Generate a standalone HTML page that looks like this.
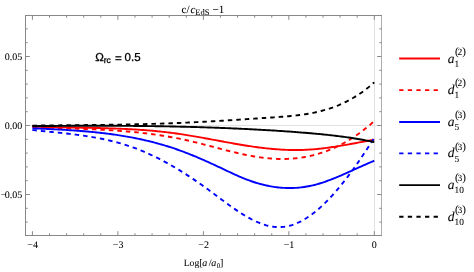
<!DOCTYPE html>
<html><head><meta charset="utf-8"><title>plot</title>
<style>
html,body{margin:0;padding:0;background:#fff;}
body{width:474px;height:272px;overflow:hidden;font-family:"Liberation Serif",serif;}
svg{display:block;}
text{font-family:"Liberation Serif",serif;fill:#000;stroke:#000;stroke-width:0.06px;text-rendering:geometricPrecision;}
svg{opacity:0.999;will-change:transform;}
.sans{font-family:"Liberation Sans",sans-serif;fill:#000;stroke-width:0.3px;}
</style></head><body>
<svg width="474" height="272" viewBox="0 0 474 272">
<rect width="474" height="272" fill="#fff"/>
<g stroke="#e2e2e2" stroke-width="1" fill="none">
<path d="M25.5,125.5 H381.5"/><path d="M374.5,15.5 V235.5"/>
</g>
<g fill="none" stroke-width="1.9" stroke-linecap="butt" stroke-linejoin="round">
<path d="M32.4,126.55 L33.9,126.60 L35.4,126.66 L36.9,126.71 L38.4,126.76 L39.9,126.80 L41.4,126.85 L42.9,126.89 L44.4,126.94 L45.9,126.98 L47.4,127.01 L48.9,127.05 L50.4,127.09 L51.9,127.12 L53.4,127.16 L54.9,127.19 L56.4,127.22 L57.9,127.25 L59.4,127.28 L60.9,127.31 L62.4,127.34 L63.9,127.37 L65.4,127.40 L66.9,127.42 L68.4,127.45 L69.9,127.48 L71.4,127.50 L72.9,127.53 L74.4,127.56 L75.9,127.58 L77.4,127.61 L78.9,127.64 L80.4,127.66 L81.9,127.69 L83.4,127.72 L84.9,127.75 L86.4,127.77 L87.9,127.80 L89.4,127.83 L90.9,127.86 L92.4,127.90 L93.9,127.93 L95.4,127.96 L96.9,128.00 L98.4,128.03 L99.9,128.07 L101.4,128.11 L102.9,128.15 L104.4,128.19 L105.9,128.23 L107.4,128.28 L108.9,128.33 L110.4,128.37 L111.9,128.42 L113.4,128.48 L114.9,128.53 L116.4,128.59 L117.9,128.65 L119.4,128.71 L120.9,128.77 L122.4,128.84 L123.9,128.91 L125.4,128.98 L126.9,129.05 L128.4,129.13 L129.9,129.21 L131.4,129.29 L132.9,129.37 L134.4,129.46 L135.9,129.55 L137.4,129.65 L138.9,129.75 L140.4,129.85 L141.9,129.95 L143.4,130.06 L144.9,130.17 L146.4,130.29 L147.9,130.41 L149.4,130.53 L150.9,130.66 L152.4,130.79 L153.9,130.92 L155.4,131.06 L156.9,131.21 L158.4,131.36 L159.9,131.51 L161.4,131.67 L162.9,131.83 L164.4,131.99 L165.9,132.16 L167.4,132.34 L168.9,132.52 L170.4,132.71 L171.9,132.90 L173.4,133.09 L174.9,133.29 L176.4,133.50 L177.9,133.71 L179.4,133.93 L180.9,134.15 L182.4,134.37 L183.9,134.61 L185.4,134.84 L186.9,135.08 L188.4,135.32 L189.9,135.57 L191.4,135.82 L192.9,136.08 L194.4,136.33 L195.9,136.60 L197.4,136.86 L198.9,137.12 L200.4,137.39 L201.9,137.66 L203.4,137.93 L204.9,138.21 L206.4,138.48 L207.9,138.76 L209.4,139.04 L210.9,139.32 L212.4,139.60 L213.9,139.87 L215.4,140.15 L216.9,140.43 L218.4,140.71 L219.9,140.99 L221.4,141.27 L222.9,141.55 L224.4,141.83 L225.9,142.10 L227.4,142.38 L228.9,142.65 L230.4,142.92 L231.9,143.19 L233.4,143.45 L234.9,143.72 L236.4,143.98 L237.9,144.24 L239.4,144.49 L240.9,144.74 L242.4,144.99 L243.9,145.24 L245.4,145.48 L246.9,145.71 L248.4,145.95 L249.9,146.17 L251.4,146.40 L252.9,146.62 L254.4,146.83 L255.9,147.04 L257.4,147.24 L258.9,147.44 L260.4,147.63 L261.9,147.81 L263.4,147.99 L264.9,148.16 L266.4,148.33 L267.9,148.49 L269.4,148.64 L270.9,148.79 L272.4,148.93 L273.9,149.06 L275.4,149.18 L276.9,149.30 L278.4,149.41 L279.9,149.51 L281.4,149.60 L282.9,149.69 L284.4,149.76 L285.9,149.83 L287.4,149.89 L288.9,149.93 L290.4,149.97 L291.9,150.00 L293.4,150.02 L294.9,150.04 L296.4,150.04 L297.9,150.03 L299.4,150.01 L300.9,149.98 L302.4,149.94 L303.9,149.88 L305.4,149.82 L306.9,149.75 L308.4,149.66 L309.9,149.57 L311.4,149.46 L312.9,149.35 L314.4,149.22 L315.9,149.09 L317.4,148.94 L318.9,148.79 L320.4,148.63 L321.9,148.46 L323.4,148.28 L324.9,148.09 L326.4,147.90 L327.9,147.70 L329.4,147.49 L330.9,147.28 L332.4,147.06 L333.9,146.83 L335.4,146.60 L336.9,146.36 L338.4,146.12 L339.9,145.88 L341.4,145.63 L342.9,145.37 L344.4,145.11 L345.9,144.85 L347.4,144.59 L348.9,144.32 L350.4,144.05 L351.9,143.78 L353.4,143.51 L354.9,143.23 L356.4,142.95 L357.9,142.68 L359.4,142.40 L360.9,142.12 L362.4,141.84 L363.9,141.56 L365.4,141.29 L366.9,141.01 L368.4,140.74 L369.9,140.46 L371.4,140.19 L372.9,139.92 L374.3,139.67" stroke="#ff0000"/>
<path d="M32.4,127.06 L33.9,127.13 L35.4,127.19 L36.9,127.25 L38.4,127.31 L39.9,127.37 L41.4,127.43 L42.9,127.49 L44.4,127.54 L45.9,127.60 L47.4,127.65 L48.9,127.71 L50.4,127.76 L51.9,127.81 L53.4,127.86 L54.9,127.91 L56.4,127.96 L57.9,128.01 L59.4,128.06 L60.9,128.11 L62.4,128.16 L63.9,128.21 L65.4,128.26 L66.9,128.31 L68.4,128.36 L69.9,128.41 L71.4,128.47 L72.9,128.52 L74.4,128.57 L75.9,128.62 L77.4,128.68 L78.9,128.73 L80.4,128.79 L81.9,128.84 L83.4,128.90 L84.9,128.96 L86.4,129.02 L87.9,129.08 L89.4,129.14 L90.9,129.21 L92.4,129.27 L93.9,129.34 L95.4,129.41 L96.9,129.48 L98.4,129.56 L99.9,129.63 L101.4,129.71 L102.9,129.79 L104.4,129.87 L105.9,129.96 L107.4,130.04 L108.9,130.13 L110.4,130.22 L111.9,130.32 L113.4,130.41 L114.9,130.52 L116.4,130.62 L117.9,130.72 L119.4,130.83 L120.9,130.95 L122.4,131.06 L123.9,131.18 L125.4,131.30 L126.9,131.43 L128.4,131.56 L129.9,131.69 L131.4,131.83 L132.9,131.97 L134.4,132.11 L135.9,132.26 L137.4,132.41 L138.9,132.57 L140.4,132.73 L141.9,132.90 L143.4,133.07 L144.9,133.24 L146.4,133.42 L147.9,133.61 L149.4,133.79 L150.9,133.99 L152.4,134.19 L153.9,134.39 L155.4,134.60 L156.9,134.81 L158.4,135.03 L159.9,135.25 L161.4,135.48 L162.9,135.72 L164.4,135.96 L165.9,136.21 L167.4,136.46 L168.9,136.72 L170.4,136.98 L171.9,137.25 L173.4,137.53 L174.9,137.81 L176.4,138.10 L177.9,138.39 L179.4,138.69 L180.9,139.00 L182.4,139.31 L183.9,139.63 L185.4,139.96 L186.9,140.30 L188.4,140.64 L189.9,140.98 L191.4,141.34 L192.9,141.70 L194.4,142.06 L195.9,142.43 L197.4,142.80 L198.9,143.18 L200.4,143.56 L201.9,143.94 L203.4,144.33 L204.9,144.72 L206.4,145.11 L207.9,145.50 L209.4,145.90 L210.9,146.29 L212.4,146.69 L213.9,147.08 L215.4,147.48 L216.9,147.88 L218.4,148.27 L219.9,148.66 L221.4,149.05 L222.9,149.44 L224.4,149.83 L225.9,150.21 L227.4,150.59 L228.9,150.97 L230.4,151.34 L231.9,151.71 L233.4,152.08 L234.9,152.44 L236.4,152.79 L237.9,153.14 L239.4,153.48 L240.9,153.81 L242.4,154.14 L243.9,154.46 L245.4,154.78 L246.9,155.08 L248.4,155.38 L249.9,155.66 L251.4,155.94 L252.9,156.21 L254.4,156.47 L255.9,156.72 L257.4,156.95 L258.9,157.18 L260.4,157.39 L261.9,157.59 L263.4,157.79 L264.9,157.96 L266.4,158.13 L267.9,158.28 L269.4,158.42 L270.9,158.54 L272.4,158.65 L273.9,158.74 L275.4,158.82 L276.9,158.88 L278.4,158.93 L279.9,158.96 L281.4,158.98 L282.9,158.98 L284.4,158.96 L285.9,158.93 L287.4,158.88 L288.9,158.81 L290.4,158.73 L291.9,158.63 L293.4,158.51 L294.9,158.38 L296.4,158.23 L297.9,158.05 L299.4,157.86 L300.9,157.66 L302.4,157.43 L303.9,157.19 L305.4,156.92 L306.9,156.64 L308.4,156.34 L309.9,156.02 L311.4,155.67 L312.9,155.31 L314.4,154.93 L315.9,154.53 L317.4,154.11 L318.9,153.66 L320.4,153.20 L321.9,152.72 L323.4,152.21 L324.9,151.68 L326.4,151.13 L327.9,150.56 L329.4,149.97 L330.9,149.35 L332.4,148.71 L333.9,148.05 L335.4,147.37 L336.9,146.66 L338.4,145.94 L339.9,145.18 L341.4,144.41 L342.9,143.61 L344.4,142.78 L345.9,141.93 L347.4,141.06 L348.9,140.16 L350.4,139.24 L351.9,138.30 L353.4,137.32 L354.9,136.33 L356.4,135.30 L357.9,134.26 L359.4,133.18 L360.9,132.08 L362.4,130.95 L363.9,129.80 L365.4,128.62 L366.9,127.41 L368.4,126.18 L369.9,124.92 L371.4,123.63 L372.9,122.32 L374.3,121.06" stroke="#ff0000" stroke-dasharray="4.5 4"/>
<path d="M32.4,128.28 L33.9,128.35 L35.4,128.41 L36.9,128.48 L38.4,128.55 L39.9,128.61 L41.4,128.68 L42.9,128.75 L44.4,128.82 L45.9,128.89 L47.4,128.96 L48.9,129.03 L50.4,129.10 L51.9,129.18 L53.4,129.25 L54.9,129.33 L56.4,129.41 L57.9,129.49 L59.4,129.57 L60.9,129.65 L62.4,129.74 L63.9,129.82 L65.4,129.91 L66.9,130.00 L68.4,130.10 L69.9,130.19 L71.4,130.29 L72.9,130.39 L74.4,130.50 L75.9,130.60 L77.4,130.71 L78.9,130.83 L80.4,130.94 L81.9,131.06 L83.4,131.18 L84.9,131.31 L86.4,131.44 L87.9,131.57 L89.4,131.70 L90.9,131.84 L92.4,131.99 L93.9,132.13 L95.4,132.29 L96.9,132.44 L98.4,132.60 L99.9,132.77 L101.4,132.94 L102.9,133.11 L104.4,133.29 L105.9,133.47 L107.4,133.66 L108.9,133.85 L110.4,134.05 L111.9,134.25 L113.4,134.46 L114.9,134.67 L116.4,134.89 L117.9,135.12 L119.4,135.35 L120.9,135.58 L122.4,135.82 L123.9,136.07 L125.4,136.32 L126.9,136.58 L128.4,136.85 L129.9,137.12 L131.4,137.40 L132.9,137.69 L134.4,137.98 L135.9,138.28 L137.4,138.58 L138.9,138.89 L140.4,139.21 L141.9,139.54 L143.4,139.87 L144.9,140.21 L146.4,140.56 L147.9,140.92 L149.4,141.28 L150.9,141.65 L152.4,142.03 L153.9,142.42 L155.4,142.81 L156.9,143.21 L158.4,143.62 L159.9,144.04 L161.4,144.47 L162.9,144.91 L164.4,145.35 L165.9,145.81 L167.4,146.27 L168.9,146.74 L170.4,147.22 L171.9,147.71 L173.4,148.21 L174.9,148.71 L176.4,149.23 L177.9,149.76 L179.4,150.29 L180.9,150.84 L182.4,151.39 L183.9,151.95 L185.4,152.53 L186.9,153.10 L188.4,153.69 L189.9,154.29 L191.4,154.89 L192.9,155.50 L194.4,156.12 L195.9,156.74 L197.4,157.37 L198.9,158.01 L200.4,158.65 L201.9,159.30 L203.4,159.96 L204.9,160.62 L206.4,161.28 L207.9,161.95 L209.4,162.63 L210.9,163.31 L212.4,164.00 L213.9,164.69 L215.4,165.38 L216.9,166.08 L218.4,166.78 L219.9,167.48 L221.4,168.19 L222.9,168.90 L224.4,169.61 L225.9,170.32 L227.4,171.03 L228.9,171.74 L230.4,172.44 L231.9,173.14 L233.4,173.84 L234.9,174.52 L236.4,175.20 L237.9,175.87 L239.4,176.53 L240.9,177.17 L242.4,177.80 L243.9,178.42 L245.4,179.02 L246.9,179.60 L248.4,180.17 L249.9,180.72 L251.4,181.24 L252.9,181.75 L254.4,182.25 L255.9,182.72 L257.4,183.17 L258.9,183.60 L260.4,184.02 L261.9,184.41 L263.4,184.79 L264.9,185.14 L266.4,185.48 L267.9,185.80 L269.4,186.09 L270.9,186.37 L272.4,186.62 L273.9,186.86 L275.4,187.07 L276.9,187.27 L278.4,187.44 L279.9,187.59 L281.4,187.72 L282.9,187.83 L284.4,187.92 L285.9,187.98 L287.4,188.03 L288.9,188.05 L290.4,188.05 L291.9,188.03 L293.4,187.98 L294.9,187.92 L296.4,187.83 L297.9,187.72 L299.4,187.58 L300.9,187.42 L302.4,187.24 L303.9,187.04 L305.4,186.81 L306.9,186.56 L308.4,186.29 L309.9,185.99 L311.4,185.67 L312.9,185.33 L314.4,184.96 L315.9,184.57 L317.4,184.15 L318.9,183.72 L320.4,183.26 L321.9,182.79 L323.4,182.30 L324.9,181.79 L326.4,181.26 L327.9,180.72 L329.4,180.16 L330.9,179.59 L332.4,179.01 L333.9,178.41 L335.4,177.80 L336.9,177.18 L338.4,176.55 L339.9,175.92 L341.4,175.27 L342.9,174.62 L344.4,173.95 L345.9,173.29 L347.4,172.62 L348.9,171.94 L350.4,171.27 L351.9,170.59 L353.4,169.91 L354.9,169.22 L356.4,168.54 L357.9,167.86 L359.4,167.19 L360.9,166.51 L362.4,165.84 L363.9,165.17 L365.4,164.51 L366.9,163.86 L368.4,163.21 L369.9,162.57 L371.4,161.94 L372.9,161.32 L374.3,160.75" stroke="#0000ff"/>
<path d="M32.4,129.99 L33.9,130.15 L35.4,130.31 L36.9,130.47 L38.4,130.62 L39.9,130.78 L41.4,130.93 L42.9,131.08 L44.4,131.23 L45.9,131.38 L47.4,131.53 L48.9,131.68 L50.4,131.83 L51.9,131.98 L53.4,132.13 L54.9,132.28 L56.4,132.44 L57.9,132.59 L59.4,132.75 L60.9,132.91 L62.4,133.06 L63.9,133.23 L65.4,133.39 L66.9,133.56 L68.4,133.73 L69.9,133.90 L71.4,134.08 L72.9,134.26 L74.4,134.45 L75.9,134.64 L77.4,134.83 L78.9,135.03 L80.4,135.23 L81.9,135.44 L83.4,135.65 L84.9,135.87 L86.4,136.10 L87.9,136.33 L89.4,136.57 L90.9,136.82 L92.4,137.07 L93.9,137.33 L95.4,137.59 L96.9,137.87 L98.4,138.15 L99.9,138.44 L101.4,138.74 L102.9,139.05 L104.4,139.36 L105.9,139.69 L107.4,140.02 L108.9,140.37 L110.4,140.72 L111.9,141.08 L113.4,141.46 L114.9,141.84 L116.4,142.24 L117.9,142.64 L119.4,143.06 L120.9,143.49 L122.4,143.93 L123.9,144.39 L125.4,144.85 L126.9,145.33 L128.4,145.82 L129.9,146.33 L131.4,146.84 L132.9,147.37 L134.4,147.92 L135.9,148.47 L137.4,149.05 L138.9,149.63 L140.4,150.23 L141.9,150.84 L143.4,151.47 L144.9,152.11 L146.4,152.76 L147.9,153.42 L149.4,154.10 L150.9,154.79 L152.4,155.50 L153.9,156.21 L155.4,156.94 L156.9,157.68 L158.4,158.43 L159.9,159.20 L161.4,159.97 L162.9,160.76 L164.4,161.56 L165.9,162.37 L167.4,163.19 L168.9,164.03 L170.4,164.88 L171.9,165.73 L173.4,166.60 L174.9,167.48 L176.4,168.37 L177.9,169.27 L179.4,170.18 L180.9,171.10 L182.4,172.03 L183.9,172.98 L185.4,173.93 L186.9,174.89 L188.4,175.86 L189.9,176.84 L191.4,177.84 L192.9,178.84 L194.4,179.85 L195.9,180.87 L197.4,181.90 L198.9,182.94 L200.4,183.98 L201.9,185.04 L203.4,186.11 L204.9,187.18 L206.4,188.26 L207.9,189.35 L209.4,190.45 L210.9,191.56 L212.4,192.67 L213.9,193.79 L215.4,194.91 L216.9,196.03 L218.4,197.15 L219.9,198.27 L221.4,199.39 L222.9,200.51 L224.4,201.62 L225.9,202.72 L227.4,203.82 L228.9,204.90 L230.4,205.98 L231.9,207.05 L233.4,208.10 L234.9,209.14 L236.4,210.16 L237.9,211.17 L239.4,212.16 L240.9,213.13 L242.4,214.07 L243.9,215.00 L245.4,215.90 L246.9,216.78 L248.4,217.63 L249.9,218.45 L251.4,219.25 L252.9,220.01 L254.4,220.75 L255.9,221.45 L257.4,222.11 L258.9,222.74 L260.4,223.34 L261.9,223.89 L263.4,224.41 L264.9,224.88 L266.4,225.32 L267.9,225.71 L269.4,226.05 L270.9,226.35 L272.4,226.60 L273.9,226.80 L275.4,226.95 L276.9,227.05 L278.4,227.10 L279.9,227.09 L281.4,227.03 L282.9,226.91 L284.4,226.74 L285.9,226.51 L287.4,226.22 L288.9,225.88 L290.4,225.49 L291.9,225.05 L293.4,224.55 L294.9,224.00 L296.4,223.40 L297.9,222.74 L299.4,222.04 L300.9,221.29 L302.4,220.49 L303.9,219.65 L305.4,218.75 L306.9,217.81 L308.4,216.82 L309.9,215.79 L311.4,214.71 L312.9,213.59 L314.4,212.43 L315.9,211.22 L317.4,209.97 L318.9,208.68 L320.4,207.35 L321.9,205.98 L323.4,204.57 L324.9,203.12 L326.4,201.63 L327.9,200.10 L329.4,198.54 L330.9,196.94 L332.4,195.30 L333.9,193.63 L335.4,191.93 L336.9,190.19 L338.4,188.42 L339.9,186.61 L341.4,184.78 L342.9,182.91 L344.4,181.01 L345.9,179.08 L347.4,177.12 L348.9,175.14 L350.4,173.12 L351.9,171.08 L353.4,169.01 L354.9,166.92 L356.4,164.80 L357.9,162.65 L359.4,160.48 L360.9,158.29 L362.4,156.07 L363.9,153.83 L365.4,151.57 L366.9,149.29 L368.4,146.99 L369.9,144.67 L371.4,142.33 L372.9,139.97 L374.3,137.75" stroke="#0000ff" stroke-dasharray="4.5 4"/>
<path d="M32.4,126.13 L33.9,126.12 L35.4,126.10 L36.9,126.09 L38.4,126.07 L39.9,126.06 L41.4,126.04 L42.9,126.03 L44.4,126.01 L45.9,126.00 L47.4,125.99 L48.9,125.97 L50.4,125.96 L51.9,125.95 L53.4,125.94 L54.9,125.93 L56.4,125.91 L57.9,125.90 L59.4,125.89 L60.9,125.88 L62.4,125.87 L63.9,125.86 L65.4,125.85 L66.9,125.85 L68.4,125.84 L69.9,125.83 L71.4,125.82 L72.9,125.81 L74.4,125.81 L75.9,125.80 L77.4,125.80 L78.9,125.79 L80.4,125.78 L81.9,125.78 L83.4,125.78 L84.9,125.77 L86.4,125.77 L87.9,125.77 L89.4,125.76 L90.9,125.76 L92.4,125.76 L93.9,125.76 L95.4,125.76 L96.9,125.76 L98.4,125.76 L99.9,125.76 L101.4,125.76 L102.9,125.76 L104.4,125.77 L105.9,125.77 L107.4,125.77 L108.9,125.78 L110.4,125.78 L111.9,125.79 L113.4,125.79 L114.9,125.80 L116.4,125.80 L117.9,125.81 L119.4,125.82 L120.9,125.83 L122.4,125.84 L123.9,125.85 L125.4,125.86 L126.9,125.87 L128.4,125.88 L129.9,125.89 L131.4,125.90 L132.9,125.92 L134.4,125.93 L135.9,125.94 L137.4,125.96 L138.9,125.97 L140.4,125.99 L141.9,126.01 L143.4,126.02 L144.9,126.04 L146.4,126.06 L147.9,126.08 L149.4,126.10 L150.9,126.12 L152.4,126.14 L153.9,126.16 L155.4,126.19 L156.9,126.21 L158.4,126.23 L159.9,126.26 L161.4,126.28 L162.9,126.31 L164.4,126.34 L165.9,126.37 L167.4,126.39 L168.9,126.42 L170.4,126.45 L171.9,126.48 L173.4,126.51 L174.9,126.55 L176.4,126.58 L177.9,126.61 L179.4,126.65 L180.9,126.68 L182.4,126.72 L183.9,126.75 L185.4,126.79 L186.9,126.83 L188.4,126.87 L189.9,126.91 L191.4,126.95 L192.9,126.99 L194.4,127.03 L195.9,127.07 L197.4,127.12 L198.9,127.16 L200.4,127.21 L201.9,127.25 L203.4,127.30 L204.9,127.35 L206.4,127.40 L207.9,127.45 L209.4,127.50 L210.9,127.55 L212.4,127.60 L213.9,127.65 L215.4,127.71 L216.9,127.76 L218.4,127.82 L219.9,127.88 L221.4,127.93 L222.9,127.99 L224.4,128.05 L225.9,128.11 L227.4,128.17 L228.9,128.23 L230.4,128.30 L231.9,128.36 L233.4,128.43 L234.9,128.49 L236.4,128.56 L237.9,128.63 L239.4,128.70 L240.9,128.77 L242.4,128.84 L243.9,128.91 L245.4,128.98 L246.9,129.05 L248.4,129.13 L249.9,129.20 L251.4,129.28 L252.9,129.36 L254.4,129.44 L255.9,129.52 L257.4,129.60 L258.9,129.68 L260.4,129.76 L261.9,129.85 L263.4,129.93 L264.9,130.02 L266.4,130.11 L267.9,130.20 L269.4,130.28 L270.9,130.38 L272.4,130.47 L273.9,130.56 L275.4,130.66 L276.9,130.75 L278.4,130.85 L279.9,130.95 L281.4,131.05 L282.9,131.15 L284.4,131.25 L285.9,131.35 L287.4,131.46 L288.9,131.56 L290.4,131.67 L291.9,131.78 L293.4,131.89 L294.9,132.00 L296.4,132.11 L297.9,132.23 L299.4,132.34 L300.9,132.46 L302.4,132.58 L303.9,132.70 L305.4,132.82 L306.9,132.94 L308.4,133.06 L309.9,133.19 L311.4,133.32 L312.9,133.45 L314.4,133.58 L315.9,133.72 L317.4,133.85 L318.9,134.00 L320.4,134.14 L321.9,134.28 L323.4,134.43 L324.9,134.59 L326.4,134.74 L327.9,134.90 L329.4,135.07 L330.9,135.23 L332.4,135.40 L333.9,135.58 L335.4,135.76 L336.9,135.94 L338.4,136.13 L339.9,136.32 L341.4,136.51 L342.9,136.71 L344.4,136.92 L345.9,137.13 L347.4,137.34 L348.9,137.56 L350.4,137.79 L351.9,138.02 L353.4,138.25 L354.9,138.49 L356.4,138.73 L357.9,138.98 L359.4,139.24 L360.9,139.50 L362.4,139.77 L363.9,140.04 L365.4,140.32 L366.9,140.60 L368.4,140.89 L369.9,141.19 L371.4,141.49 L372.9,141.80 L374.3,142.09" stroke="#000000"/>
<path d="M32.4,125.61 L33.9,125.59 L35.4,125.58 L36.9,125.56 L38.4,125.54 L39.9,125.53 L41.4,125.51 L42.9,125.49 L44.4,125.48 L45.9,125.46 L47.4,125.45 L48.9,125.43 L50.4,125.42 L51.9,125.40 L53.4,125.39 L54.9,125.37 L56.4,125.36 L57.9,125.34 L59.4,125.33 L60.9,125.31 L62.4,125.30 L63.9,125.29 L65.4,125.27 L66.9,125.26 L68.4,125.24 L69.9,125.23 L71.4,125.21 L72.9,125.20 L74.4,125.18 L75.9,125.17 L77.4,125.15 L78.9,125.14 L80.4,125.12 L81.9,125.11 L83.4,125.09 L84.9,125.08 L86.4,125.06 L87.9,125.04 L89.4,125.03 L90.9,125.01 L92.4,124.99 L93.9,124.98 L95.4,124.96 L96.9,124.94 L98.4,124.92 L99.9,124.90 L101.4,124.88 L102.9,124.86 L104.4,124.84 L105.9,124.82 L107.4,124.80 L108.9,124.78 L110.4,124.76 L111.9,124.74 L113.4,124.71 L114.9,124.69 L116.4,124.66 L117.9,124.64 L119.4,124.61 L120.9,124.59 L122.4,124.56 L123.9,124.53 L125.4,124.51 L126.9,124.48 L128.4,124.45 L129.9,124.42 L131.4,124.39 L132.9,124.36 L134.4,124.33 L135.9,124.29 L137.4,124.26 L138.9,124.22 L140.4,124.19 L141.9,124.15 L143.4,124.12 L144.9,124.08 L146.4,124.04 L147.9,124.00 L149.4,123.96 L150.9,123.92 L152.4,123.88 L153.9,123.83 L155.4,123.79 L156.9,123.74 L158.4,123.70 L159.9,123.65 L161.4,123.60 L162.9,123.55 L164.4,123.50 L165.9,123.45 L167.4,123.40 L168.9,123.34 L170.4,123.29 L171.9,123.23 L173.4,123.17 L174.9,123.11 L176.4,123.06 L177.9,122.99 L179.4,122.93 L180.9,122.87 L182.4,122.80 L183.9,122.74 L185.4,122.67 L186.9,122.60 L188.4,122.53 L189.9,122.46 L191.4,122.39 L192.9,122.32 L194.4,122.25 L195.9,122.17 L197.4,122.10 L198.9,122.02 L200.4,121.94 L201.9,121.87 L203.4,121.79 L204.9,121.71 L206.4,121.63 L207.9,121.54 L209.4,121.46 L210.9,121.38 L212.4,121.29 L213.9,121.21 L215.4,121.12 L216.9,121.04 L218.4,120.95 L219.9,120.86 L221.4,120.77 L222.9,120.68 L224.4,120.59 L225.9,120.50 L227.4,120.41 L228.9,120.32 L230.4,120.22 L231.9,120.13 L233.4,120.03 L234.9,119.94 L236.4,119.85 L237.9,119.75 L239.4,119.65 L240.9,119.56 L242.4,119.46 L243.9,119.36 L245.4,119.26 L246.9,119.17 L248.4,119.07 L249.9,118.97 L251.4,118.87 L252.9,118.77 L254.4,118.67 L255.9,118.57 L257.4,118.47 L258.9,118.36 L260.4,118.26 L261.9,118.16 L263.4,118.06 L264.9,117.96 L266.4,117.86 L267.9,117.75 L269.4,117.65 L270.9,117.55 L272.4,117.45 L273.9,117.34 L275.4,117.24 L276.9,117.13 L278.4,117.03 L279.9,116.92 L281.4,116.81 L282.9,116.69 L284.4,116.57 L285.9,116.45 L287.4,116.32 L288.9,116.18 L290.4,116.04 L291.9,115.90 L293.4,115.74 L294.9,115.58 L296.4,115.41 L297.9,115.23 L299.4,115.05 L300.9,114.85 L302.4,114.64 L303.9,114.43 L305.4,114.20 L306.9,113.96 L308.4,113.70 L309.9,113.44 L311.4,113.16 L312.9,112.86 L314.4,112.56 L315.9,112.23 L317.4,111.90 L318.9,111.54 L320.4,111.17 L321.9,110.79 L323.4,110.38 L324.9,109.96 L326.4,109.52 L327.9,109.06 L329.4,108.58 L330.9,108.08 L332.4,107.56 L333.9,107.01 L335.4,106.45 L336.9,105.86 L338.4,105.26 L339.9,104.62 L341.4,103.97 L342.9,103.29 L344.4,102.58 L345.9,101.85 L347.4,101.09 L348.9,100.31 L350.4,99.49 L351.9,98.65 L353.4,97.79 L354.9,96.89 L356.4,95.96 L357.9,95.00 L359.4,94.01 L360.9,92.99 L362.4,91.93 L363.9,90.84 L365.4,89.72 L366.9,88.56 L368.4,87.37 L369.9,86.15 L371.4,84.88 L372.9,83.59 L374.3,82.34" stroke="#000000" stroke-dasharray="4.5 4"/>
</g>
<g fill="none" stroke="#888" stroke-width="1">
<path d="M381.5,15.5 V235.5" stroke="#adadad"/>
<path d="M25.5,235.5 V15.5 M25.0,15.5 H382.0 M25.0,235.5 H382.0"/>
<path d="M32.42,235.5 v-4.3 M32.42,15.5 v4.3 M49.51,235.5 v-2.2 M49.51,15.5 v2.2 M66.61,235.5 v-2.2 M66.61,15.5 v2.2 M83.70,235.5 v-2.2 M83.70,15.5 v2.2 M100.80,235.5 v-2.2 M100.80,15.5 v2.2 M117.89,235.5 v-4.3 M117.89,15.5 v4.3 M134.98,235.5 v-2.2 M134.98,15.5 v2.2 M152.08,235.5 v-2.2 M152.08,15.5 v2.2 M169.17,235.5 v-2.2 M169.17,15.5 v2.2 M186.27,235.5 v-2.2 M186.27,15.5 v2.2 M203.36,235.5 v-4.3 M203.36,15.5 v4.3 M220.45,235.5 v-2.2 M220.45,15.5 v2.2 M237.55,235.5 v-2.2 M237.55,15.5 v2.2 M254.64,235.5 v-2.2 M254.64,15.5 v2.2 M271.74,235.5 v-2.2 M271.74,15.5 v2.2 M288.83,235.5 v-4.3 M288.83,15.5 v4.3 M305.92,235.5 v-2.2 M305.92,15.5 v2.2 M323.02,235.5 v-2.2 M323.02,15.5 v2.2 M340.11,235.5 v-2.2 M340.11,15.5 v2.2 M357.21,235.5 v-2.2 M357.21,15.5 v2.2 M374.30,235.5 v-4.3 M374.30,15.5 v4.3 M25.5,222.10 h2.2 M381.5,222.10 h-2.2 M25.5,208.30 h2.2 M381.5,208.30 h-2.2 M25.5,194.50 h4.3 M381.5,194.50 h-4.3 M25.5,180.70 h2.2 M381.5,180.70 h-2.2 M25.5,166.90 h2.2 M381.5,166.90 h-2.2 M25.5,153.10 h2.2 M381.5,153.10 h-2.2 M25.5,139.30 h2.2 M381.5,139.30 h-2.2 M25.5,125.50 h4.3 M381.5,125.50 h-4.3 M25.5,111.70 h2.2 M381.5,111.70 h-2.2 M25.5,97.90 h2.2 M381.5,97.90 h-2.2 M25.5,84.10 h2.2 M381.5,84.10 h-2.2 M25.5,70.30 h2.2 M381.5,70.30 h-2.2 M25.5,56.50 h4.3 M381.5,56.50 h-4.3 M25.5,42.70 h2.2 M381.5,42.70 h-2.2 M25.5,28.90 h2.2 M381.5,28.90 h-2.2"/>
</g>
<g fill="none" stroke-width="1.9">
<path d="M399.2,58.45 H440" stroke="#ff0000"/>
<path d="M399.2,90.15 H440" stroke="#ff0000" stroke-dasharray="4.3 4.3"/>
<path d="M399.2,121.95 H440" stroke="#0000ff"/>
<path d="M399.2,153.35 H440" stroke="#0000ff" stroke-dasharray="4.3 4.3"/>
<path d="M399.2,185.15 H440" stroke="#000000"/>
<path d="M399.2,216.75 H440" stroke="#000000" stroke-dasharray="4.3 4.3"/>
</g>
<text x="447.8" y="62.5" font-size="13.5" font-style="italic">a</text><text x="454.9" y="54.7" font-size="11">(</text><text x="457.6" y="54.6" font-size="9.5">2</text><text x="462.3" y="54.7" font-size="11">)</text><text x="454.5" y="66.6" font-size="9.3">1</text>
<text x="447.8" y="94.2" font-size="13.5" font-style="italic">d</text><text x="454.9" y="86.4" font-size="11">(</text><text x="457.6" y="86.3" font-size="9.5">2</text><text x="462.3" y="86.4" font-size="11">)</text><text x="454.5" y="98.3" font-size="9.3">1</text>
<text x="447.8" y="126.0" font-size="13.5" font-style="italic">a</text><text x="454.9" y="118.2" font-size="11">(</text><text x="457.6" y="118.1" font-size="9.5">3</text><text x="462.3" y="118.2" font-size="11">)</text><text x="454.5" y="130.1" font-size="9.3">5</text>
<text x="447.8" y="157.4" font-size="13.5" font-style="italic">d</text><text x="454.9" y="149.6" font-size="11">(</text><text x="457.6" y="149.5" font-size="9.5">3</text><text x="462.3" y="149.6" font-size="11">)</text><text x="454.5" y="161.5" font-size="9.3">5</text>
<text x="447.8" y="189.2" font-size="13.5" font-style="italic">a</text><text x="454.9" y="181.4" font-size="11">(</text><text x="457.6" y="181.3" font-size="9.5">3</text><text x="462.3" y="181.4" font-size="11">)</text><text x="454.5" y="193.3" font-size="9.3">10</text>
<text x="447.8" y="220.8" font-size="13.5" font-style="italic">d</text><text x="454.9" y="213.0" font-size="11">(</text><text x="457.6" y="212.9" font-size="9.5">3</text><text x="462.3" y="213.0" font-size="11">)</text><text x="454.5" y="224.9" font-size="9.3">10</text>

<g font-size="10" text-anchor="end">
<text x="22.3" y="59.9">0.05</text>
<text x="22.3" y="128.9">0.00</text>
<text x="22.3" y="197.9">0.05</text><text x="6.3" y="197.9">−</text>
</g>
<g font-size="10" text-anchor="middle">
<text x="32.6" y="247.5">−4</text>
<text x="118.1" y="247.5">−3</text>
<text x="203.6" y="247.5">−2</text>
<text x="289.0" y="247.5">−1</text>
<text x="374.3" y="247.5">0</text>
</g>
<g font-size="11">
<text x="181.6" y="12.5">c</text><text x="186.6" y="12.5">/</text><text x="190.4" y="12.5" font-style="italic">c</text>
<text x="195.2" y="14.7" font-size="8.5">EdS</text>
<text x="212.6" y="12.5">−1</text>
</g>
<g font-size="10">
<text x="183.7" y="266" font-size="9.7">Log</text><text x="199.3" y="266">[</text><text x="202.3" y="266" font-style="italic">a</text><text x="208.8" y="266">/</text><text x="211.2" y="266" font-style="italic">a</text><text x="216.8" y="267.6" font-size="7">0</text><text x="219.9" y="266">]</text>
</g>
<g class="sans" font-size="11.5" style="fill:#000">
<text class="sans" x="95.2" y="61.2">Ω</text><text class="sans" x="103.7" y="62.9" font-size="8.6">rc</text><text class="sans" x="114.9" y="61.9">=</text><text class="sans" x="124.6" y="61.2">0.5</text>
</g>
</svg>
</body></html>
